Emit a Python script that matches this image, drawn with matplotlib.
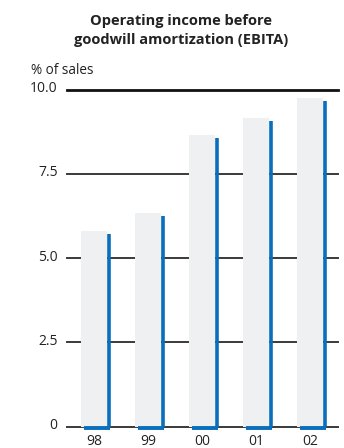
import matplotlib
matplotlib.use("Agg")
import matplotlib.pyplot as plt
import matplotlib.transforms as mtransforms
import numpy as np

years = ["98", "99", "00", "01", "02"]
ebita = [5.73, 6.25, 8.56, 9.07, 9.66]
yticks = [0, 2.5, 5.0, 7.5, 10.0]
ytick_labels = ["0", "2.5", "5.0", "7.5", "10.0"]

plt.rcParams['font.family'] = ['Open Sans', 'DejaVu Sans']

fig = plt.figure(figsize=(3.44, 4.48), dpi=100)
ax = fig.add_axes([0.194, 0.0475, 0.788, 0.7523])

x = np.arange(len(years))
gray = "#eff0f2"
blue = "#0a6ebd"

ax.bar(x, [v + 0.09 for v in ebita], width=0.48, color=gray, zorder=2, linewidth=0)
for xi, v in zip(x, ebita):
    ax.plot([xi + 0.268, xi + 0.268], [0, v], color=blue, lw=2.6, solid_capstyle='butt', zorder=3)
    ax.plot([xi - 0.185, xi + 0.295], [-0.04, -0.04], color=blue, lw=2.8, solid_capstyle='butt', zorder=3, clip_on=False)

for t in yticks:
    if t == 10.0:
        ax.axhline(t, color="#111111", lw=2.0, zorder=1, clip_on=False)
    else:
        ax.axhline(t, color="#3a3a3a", lw=1.4, zorder=1, clip_on=False)

ax.set_xlim(-0.506, 4.513)
ax.set_ylim(0, 10)
ax.set_yticks(yticks)
ax.set_yticklabels(ytick_labels)
ax.set_xticks(x)
ax.set_xticklabels(years)
ax.tick_params(axis='both', length=0, labelsize=10, colors="#222222")
ax.tick_params(axis='y', pad=6.5)
ax.tick_params(axis='x', pad=5)
up = mtransforms.ScaledTranslation(0, 3 / 100, fig.dpi_scale_trans)
for lab in ax.get_yticklabels():
    lab.set_transform(lab.get_transform() + up)
for s in ax.spines.values():
    s.set_visible(False)

fig.text(0.527, 0.931, "Operating income before\ngoodwill amortization (EBITA)",
         ha='center', va='center', fontsize=10.5, fontweight='bold', color="#222222",
         linespacing=1.45)
fig.text(0.09, 0.842, "% of sales", ha='left', va='center', fontsize=9.8, color="#222222")

fig.savefig("out.png", dpi=100)
